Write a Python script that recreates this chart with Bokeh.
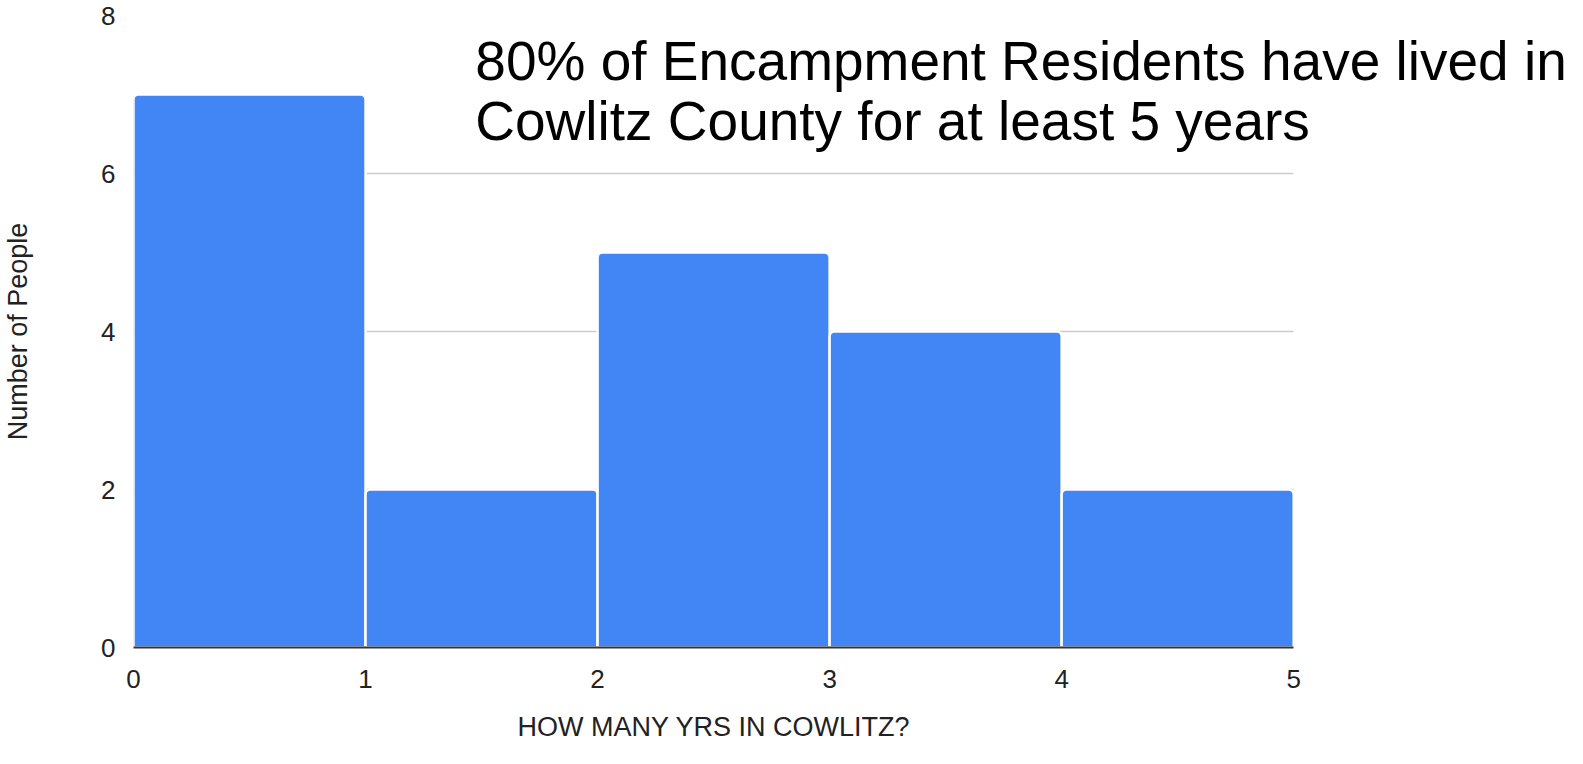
from bokeh.plotting import figure
from bokeh.models import Label, Range1d, FixedTicker, Title
from bokeh.embed import file_html
from bokeh.resources import INLINE

# Data
bin_left = [0, 1, 2, 3, 4]
bin_right = [1, 2, 3, 4, 5]
counts = [7, 2, 5, 4, 2]
y_ticks = [0, 2, 4, 6, 8]
x_ticks = [0, 1, 2, 3, 4, 5]
title_lines = ["80% of Encampment Residents have lived in",
               "Cowlitz County for at least 5 years"]
x_label = "HOW MANY YRS IN COWLITZ?"
y_label = "Number of People"

FONT = "Liberation Sans"

# frame extends right past x=5 so the annotation text is not clipped
p = figure(width=1567, height=760, output_backend="svg", toolbar_location=None,
           x_range=Range1d(0, 6.18), y_range=Range1d(0, 8),
           min_border_left=125, min_border_right=0, min_border_top=15,
           min_border_bottom=112)
p.outline_line_color = None
p.background_fill_color = "white"
p.border_fill_color = "white"

p.quad(left=bin_left, right=bin_right, bottom=0, top=counts,
       fill_color="#4285F4", line_color="white", line_width=2.5,
       border_radius=(5, 5, 0, 0))

# axes
p.xaxis.ticker = FixedTicker(ticks=x_ticks)
p.yaxis.ticker = FixedTicker(ticks=y_ticks)
p.xaxis.bounds = (x_ticks[0], x_ticks[-1])
p.yaxis.axis_label = y_label
for ax in (p.xaxis[0], p.yaxis[0]):
    ax.major_label_text_font = FONT
    ax.major_label_text_font_size = "26px"
    ax.major_label_text_color = "#222222"
    ax.axis_label_text_font = FONT
    ax.axis_label_text_font_size = "27px"
    ax.axis_label_text_font_style = "normal"
    ax.axis_label_text_color = "#222222"
    ax.major_tick_line_color = None
    ax.minor_tick_line_color = None
p.xaxis.axis_line_color = "#333333"
p.xaxis.axis_line_width = 2
p.xaxis.major_label_standoff = 16
p.yaxis.axis_line_color = None
p.yaxis.major_label_standoff = 12
p.yaxis.axis_label_standoff = 65

# x axis title, placed under the 0..5 part of the frame
xt = Title(text=x_label, align="left", offset=384,
           text_font=FONT, text_font_size="27px",
           text_font_style="normal", text_color="#222222")
if "standoff" in Title.properties():
    xt.standoff = 38
p.add_layout(xt, "below")

p.xgrid.grid_line_color = None
p.ygrid.ticker = FixedTicker(ticks=y_ticks[1:])
p.ygrid.cross_bounds = (x_ticks[0], x_ticks[-1])
p.ygrid.grid_line_color = "#cccccc"
p.ygrid.grid_line_width = 1.5
p.ygrid.level = "underlay"

# annotation text
for txt, yb in zip(title_lines, [7.429, 6.66]):
    p.add_layout(Label(x=1.473, y=yb, text=txt, text_font=FONT,
                       text_font_size="55px", text_color="black",
                       text_baseline="alphabetic", text_align="left"))

open("out.html", "w").write(file_html(p, INLINE))
